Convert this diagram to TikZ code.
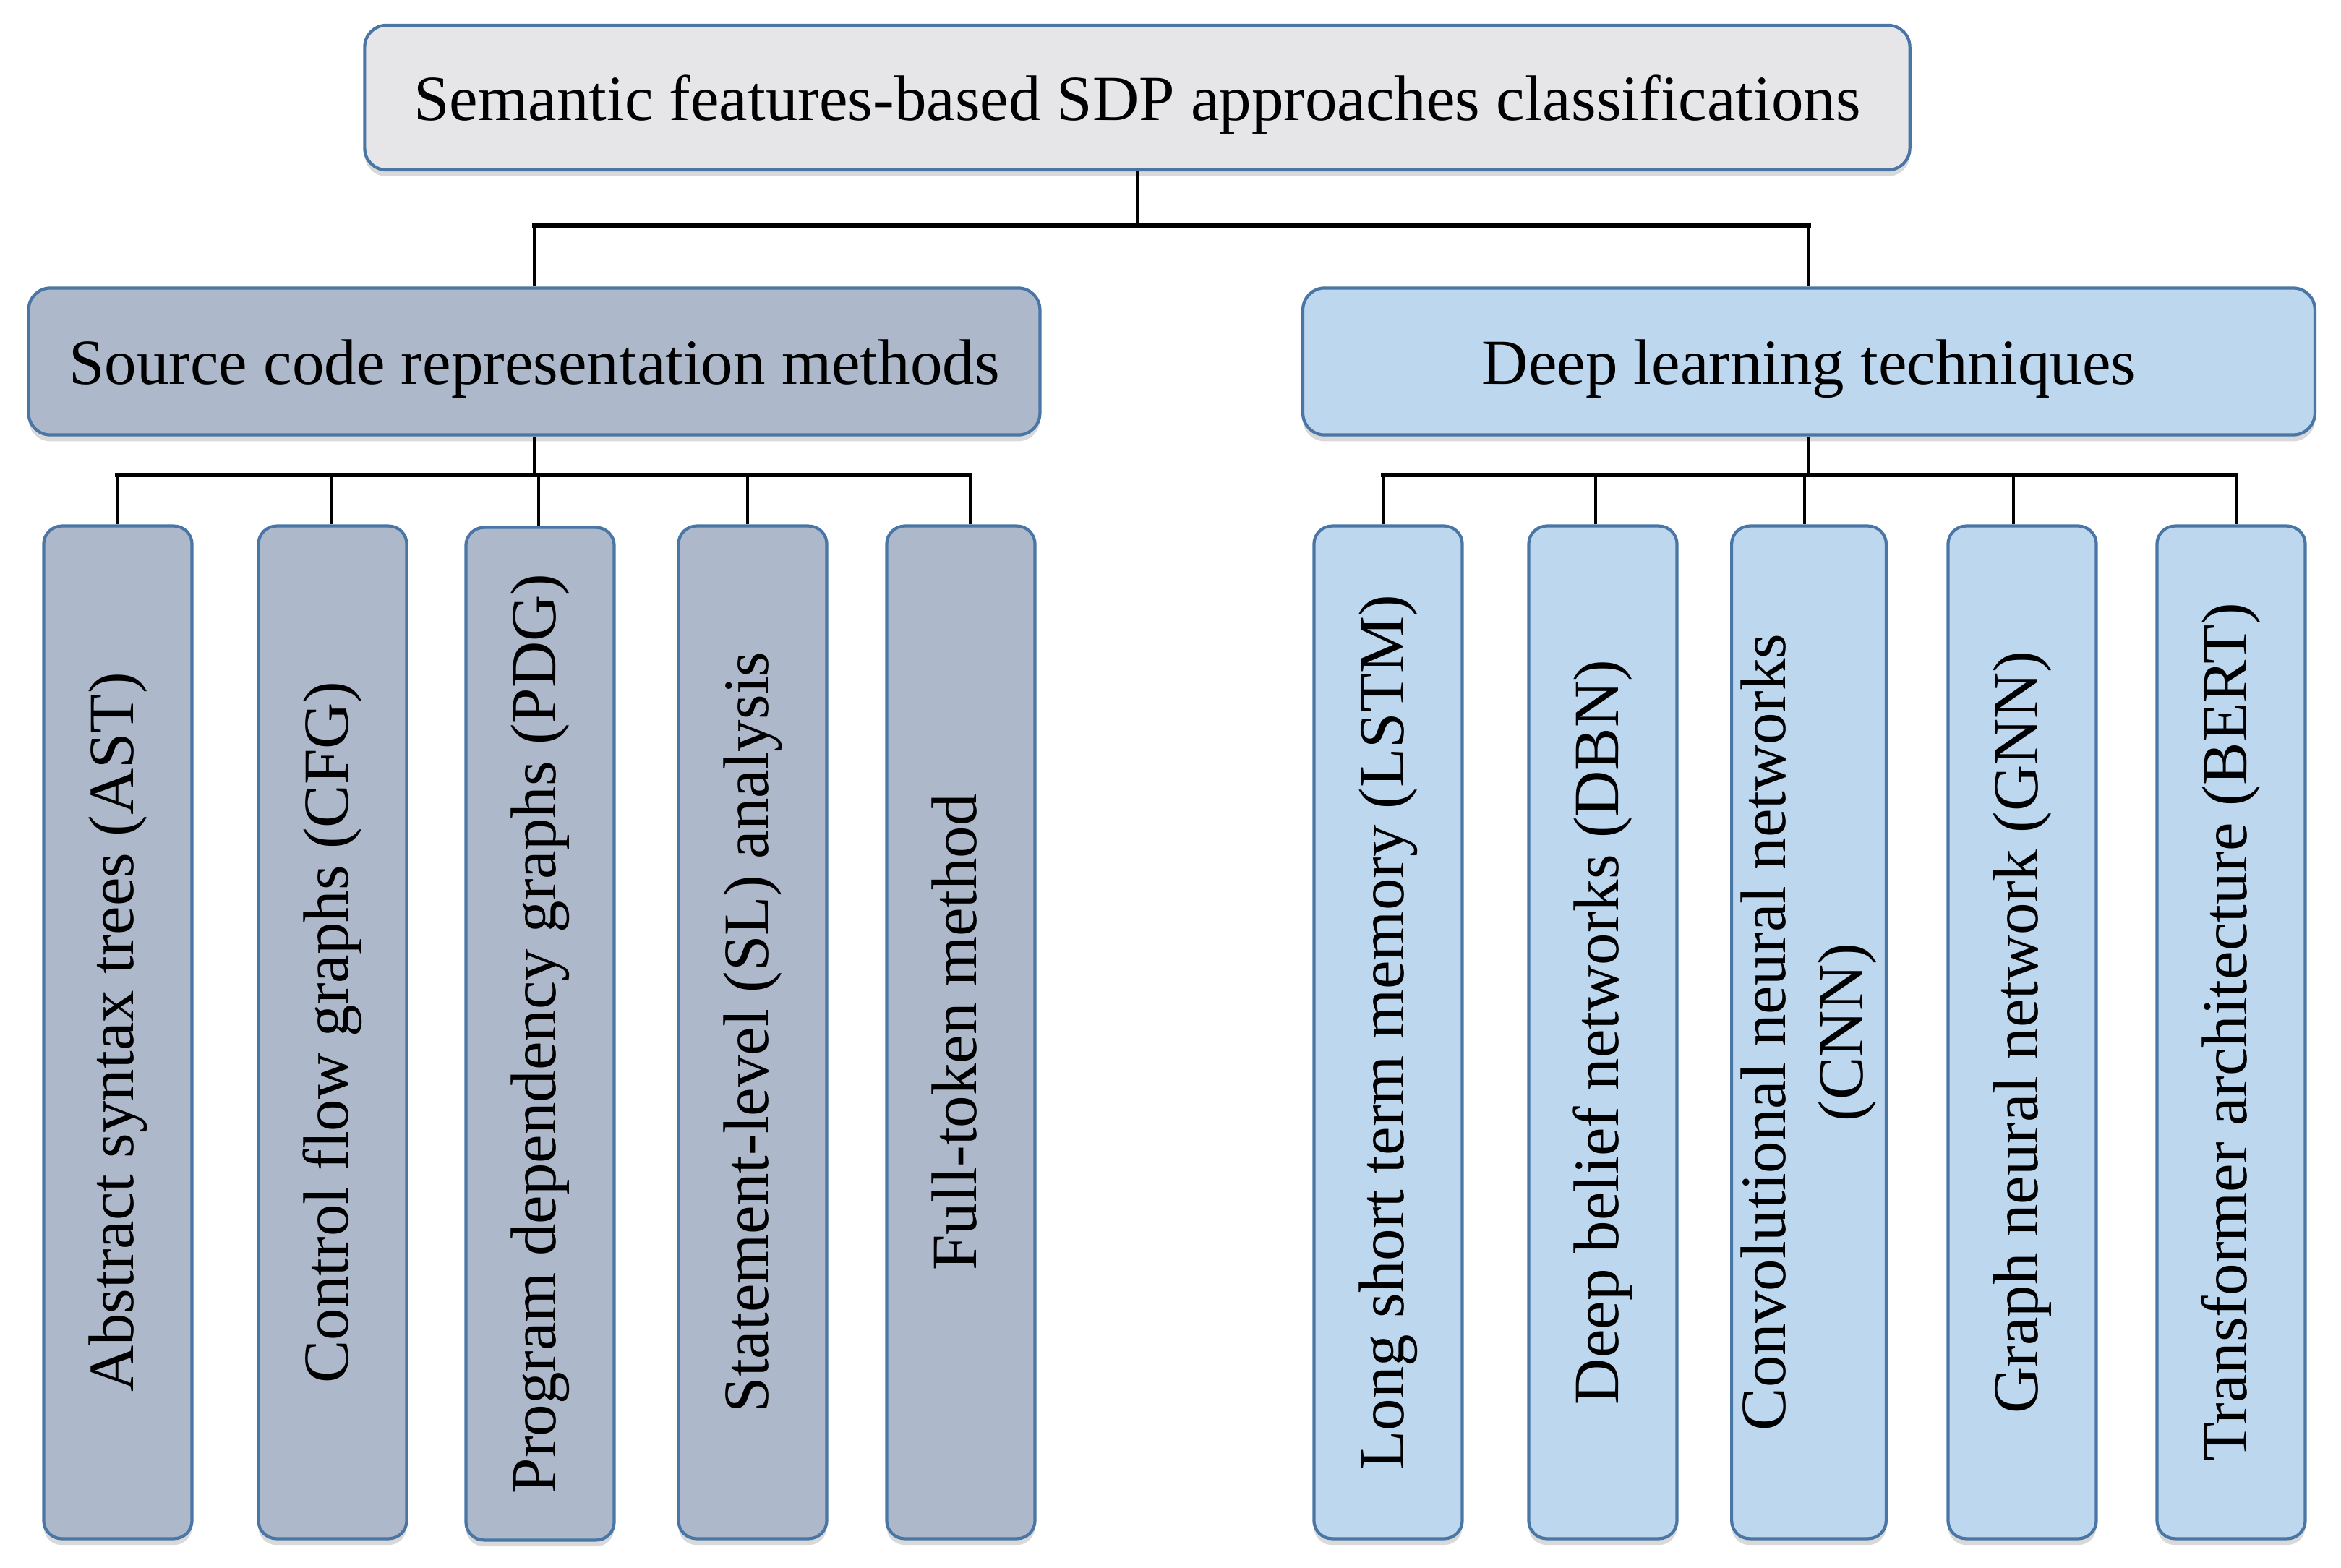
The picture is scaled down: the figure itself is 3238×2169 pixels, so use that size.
\documentclass[tikz,border=0pt]{standalone}
\usepackage{fontspec}
\setmainfont{Liberation Serif}
\usetikzlibrary{shadows}
\definecolor{bordc}{HTML}{4A76A6}
\definecolor{topfill}{HTML}{E6E6E8}
\definecolor{leftfill}{HTML}{ADB9CB}
\definecolor{rightfill}{HTML}{BDD7EE}
\newcommand\vtxt[1]{\rotatebox{90}{\begin{tabular}{@{}c@{}}#1\end{tabular}}}
\begin{document}
\begin{tikzpicture}[x=0.01cm,y=-0.01cm,
  box/.style={draw=bordc, line width=1.2pt, rounded corners=0.3cm,
    font=\fontsize{25.3}{30.4}\selectfont, inner sep=0pt, align=center,
    drop shadow={shadow xshift=0pt, shadow yshift=-2.5pt, opacity=0.3}},
  hbox/.style={box, text height=0.62cm, text depth=0pt},
  topbox/.style={hbox, fill=topfill, minimum width=21.36cm, minimum height=2cm},
  midL/.style={hbox, fill=leftfill, minimum width=13.98cm, minimum height=2.03cm},
  midR/.style={hbox, fill=rightfill, minimum width=13.99cm, minimum height=2.03cm},
  leaf/.style={box, minimum width=2.05cm, minimum height=14cm, rounded corners=0.25cm},
  leafL/.style={leaf, fill=leftfill},
  leafR/.style={leaf, fill=rightfill},
  conn/.style={draw=black, line width=1.3pt},
  bus/.style={draw=black, line width=1.8pt, line cap=rect}]
\useasboundingbox (0,0) rectangle (3238,2169);

\node[topbox] (top) at (1573,135) {Semantic features-based SDP approaches classifications};
\node[midL] (L) at (739,500) {Source code representation methods};
\node[midR] (R) at (2502,500) {Deep learning techniques};

\node[leafL] (l1) at (163,1428) {\vtxt{Abstract syntax trees (AST)}};
\node[leafL] (l2) at (460,1428) {\vtxt{Control flow graphs (CFG)}};
\node[leafL] (l3) at (747,1430) {\vtxt{Program dependency graphs (PDG)}};
\node[leafL] (l4) at (1041,1428) {\vtxt{Statement-level (SL) analysis}};
\node[leafL] (l5) at (1329,1428) {\vtxt{Full-token method}};

\node[leafR] (r1) at (1920,1428) {\vtxt{Long short term memory (LSTM)}};
\node[leafR] (r2) at (2217,1428) {\vtxt{Deep belief networks (DBN)}};
\node[leafR] (r3) at (2502,1428) {\vtxt{Convolutional neural networks\\(CNN)}};
\node[leafR] (r4) at (2797,1428) {\vtxt{Graph neural network (GNN)}};
\node[leafR] (r5) at (3086,1428) {\vtxt{Transformer architecture (BERT)}};

\coordinate (j0) at (1573,312);
\coordinate (jL) at (0,657);
\coordinate (jR) at (0,657);

% connector attachment points on the leaves
\coordinate (c1) at ([xshift=-0.01cm]l1.north);
\coordinate (c2) at ([xshift=-0.01cm]l2.north);
\coordinate (c3) at ([xshift=-0.02cm]l3.north);
\coordinate (c4) at ([xshift=-0.07cm]l4.north);
\coordinate (c5) at ([xshift=0.13cm]l5.north);
\coordinate (d1) at ([xshift=-0.07cm]r1.north);
\coordinate (d2) at ([xshift=-0.10cm]r2.north);
\coordinate (d3) at ([xshift=-0.06cm]r3.north);
\coordinate (d4) at ([xshift=-0.12cm]r4.north);
\coordinate (d5) at ([xshift=0.07cm]r5.north);

\draw[conn] (top.south) -- (j0);
\draw[bus] (L.north |- j0) -- (R.north |- j0);
\draw[conn] (L.north |- j0) -- (L.north);
\draw[conn] (R.north |- j0) -- (R.north);

\draw[conn] (L.south) -- (L.south |- jL);
\draw[bus] (c1 |- jL) -- (c5 |- jL);
\foreach \n in {c1,c2,c3,c4,c5} \draw[conn] (\n |- jL) -- (\n);

\draw[conn] (R.south) -- (R.south |- jR);
\draw[bus] (d1 |- jR) -- (d5 |- jR);
\foreach \n in {d1,d2,d3,d4,d5} \draw[conn] (\n |- jR) -- (\n);
\end{tikzpicture}
\end{document}
